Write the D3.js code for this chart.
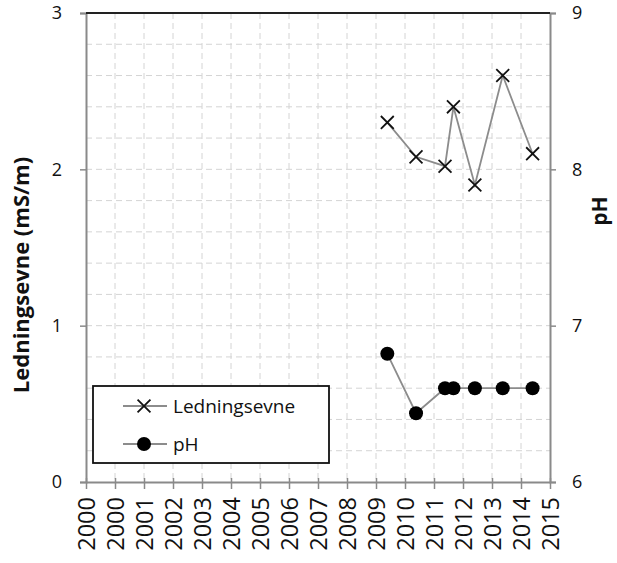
<!DOCTYPE html>
<html>
<head>
<meta charset="utf-8">
<script src="https://cdn.jsdelivr.net/npm/d3@7"></script>
<style>
	body { margin: 0; background: #fff; }
	svg text { font-family: 'Open Sans', 'Liberation Sans', sans-serif; fill: #111; }
</style>
</head>
<body>
<div id="chart"></div>
<script>
// sample dates as decimal years
var sampleYears = [2009.39, 2010.38, 2011.38, 2011.67, 2012.41, 2013.37, 2014.40];
var conductivity = [2.3, 2.08, 2.02, 2.4, 1.9, 2.6, 2.1];
var phValues = [6.82, 6.44, 6.6, 6.6, 6.6, 6.6, 6.6];
var xTickValues = [1999, 2000, 2001, 2002, 2003, 2004, 2005, 2006, 2007, 2008, 2009, 2010, 2011, 2012, 2013, 2014, 2015];
var xTickLabels = ['2000', '2000', '2001', '2002', '2003', '2004', '2005', '2006', '2007', '2008', '2009', '2010', '2011', '2012', '2013', '2014', '2015'];
var leftTicks = [0, 1, 2, 3];
var rightTicks = [6, 7, 8, 9];
var seriesNames = ['Ledningsevne', 'pH'];

var W = 617, H = 563;
var margin = { top: 13, right: 67, bottom: 81, left: 86 },
	width = W - margin.left - margin.right,
	height = H - margin.top - margin.bottom;

var svg = d3.select('#chart').append('svg')
	.attr('width', W)
	.attr('height', H);
var g = svg.append('g')
	.attr('transform', 'translate(' + margin.left + ',' + margin.top + ')');

var x = d3.scaleLinear().domain([1999, 2015]).range([0, width]);
var y = d3.scaleLinear().domain([0, 3]).range([height, 0]);
var yRight = d3.scaleLinear().domain([6, 9]).range([height, 0]);

// grid (dashed)
var grid = g.append('g').attr('class', 'grid');
grid.selectAll('.vgrid')
	.data(xTickValues.slice(1, -1))
	.enter().append('line')
	.attr('x1', function (d) { return x(d); })
	.attr('x2', function (d) { return x(d); })
	.attr('y1', 0)
	.attr('y2', height)
	.attr('stroke', '#d4d4d4')
	.attr('stroke-dasharray', '6,4');
grid.selectAll('.hgrid')
	.data(d3.range(1, 15).map(function (i) { return i * 0.2; }))
	.enter().append('line')
	.attr('x1', 0)
	.attr('x2', width)
	.attr('y1', function (d) { return y(d); })
	.attr('y2', function (d) { return y(d); })
	.attr('stroke', '#d4d4d4')
	.attr('stroke-dasharray', '6,4');

// axes
var xAxis = d3.axisBottom(x)
	.tickValues(xTickValues)
	.tickSize(0)
	.tickFormat(function (d, i) { return xTickLabels[i]; });
var gx = g.append('g')
	.attr('transform', 'translate(0,' + height + ')')
	.call(xAxis);
gx.select('.domain').attr('stroke', '#8a8a8a').attr('stroke-width', 2);
gx.selectAll('.tick line').remove();
gx.selectAll('.tick').append('line')
	.attr('y1', -4).attr('y2', 7)
	.attr('stroke', '#8a8a8a').attr('stroke-width', 1.5);
gx.selectAll('.tick text')
	.attr('font-size', 23.5)
	.attr('text-anchor', 'end')
	.attr('dy', '0.35em')
	.attr('transform', 'translate(0,15) rotate(-90)')
	.attr('x', 0)
	.attr('y', 0);

var yAxis = d3.axisLeft(y).tickValues(leftTicks).tickSize(6).tickPadding(18).tickFormat(d3.format('d'));
var gy = g.append('g').call(yAxis);
gy.select('.domain').attr('stroke', '#8a8a8a').attr('stroke-width', 2);
gy.selectAll('.tick line').attr('stroke', '#8a8a8a').attr('stroke-width', 1.5);
gy.selectAll('.tick text').attr('font-size', 18);

var yAxisRight = d3.axisRight(yRight).tickValues(rightTicks).tickSize(6).tickPadding(16).tickFormat(d3.format('d'));
var gyr = g.append('g').attr('transform', 'translate(' + width + ',0)').call(yAxisRight);
gyr.select('.domain').attr('stroke', '#8a8a8a').attr('stroke-width', 2);
gyr.selectAll('.tick line').attr('stroke', '#8a8a8a').attr('stroke-width', 1.5);
gyr.selectAll('.tick text').attr('font-size', 18);

// top border
g.append('line')
	.attr('x1', 0).attr('x2', width)
	.attr('y1', 0).attr('y2', 0)
	.attr('stroke', '#222').attr('stroke-width', 2);

// axis titles
svg.append('text')
	.attr('transform', 'translate(29,' + 275 + ') rotate(-90)')
	.attr('text-anchor', 'middle')
	.attr('font-size', 22)
	.attr('font-weight', 'bold')
	.text('Ledningsevne (mS/m)');
svg.append('text')
	.attr('transform', 'translate(607,211) rotate(-90)')
	.attr('text-anchor', 'middle')
	.attr('font-size', 21)
	.attr('font-weight', 'bold')
	.text('pH');

// series
var lineCond = d3.line()
	.x(function (d, i) { return x(sampleYears[i]); })
	.y(function (d) { return y(d); });
var linePh = d3.line()
	.x(function (d, i) { return x(sampleYears[i]); })
	.y(function (d) { return yRight(d); });

g.append('path')
	.datum(conductivity)
	.attr('d', lineCond)
	.attr('fill', 'none')
	.attr('stroke', '#8c8c8c')
	.attr('stroke-width', 1.8);
g.append('path')
	.datum(phValues)
	.attr('d', linePh)
	.attr('fill', 'none')
	.attr('stroke', '#8c8c8c')
	.attr('stroke-width', 1.8);

var cross = d3.symbol().type(d3.symbolX).size(110);
g.selectAll('.cond')
	.data(conductivity)
	.enter().append('path')
	.attr('class', 'cond')
	.attr('d', cross)
	.attr('transform', function (d, i) { return 'translate(' + x(sampleYears[i]) + ',' + y(d) + ')'; })
	.attr('fill', 'none')
	.attr('stroke', '#111')
	.attr('stroke-width', 1.8);

g.selectAll('.ph')
	.data(phValues)
	.enter().append('circle')
	.attr('class', 'ph')
	.attr('cx', function (d, i) { return x(sampleYears[i]); })
	.attr('cy', function (d) { return yRight(d); })
	.attr('r', 7)
	.attr('fill', '#000');

// legend
var legend = svg.append('g').attr('transform', 'translate(93,386)');
legend.append('rect')
	.attr('width', 236).attr('height', 77)
	.attr('fill', '#fff')
	.attr('stroke', '#111')
	.attr('stroke-width', 1.8);
var items = legend.selectAll('.item')
	.data(seriesNames)
	.enter().append('g')
	.attr('transform', function (d, i) { return 'translate(0,' + (20 + i * 38) + ')'; });
items.append('line')
	.attr('x1', 30).attr('x2', 74)
	.attr('stroke', '#8c8c8c').attr('stroke-width', 1.8);
items.each(function (d, i) {
	var it = d3.select(this);
	if (i === 0) {
		it.append('path').attr('d', cross)
			.attr('transform', 'translate(51,0)')
			.attr('fill', 'none').attr('stroke', '#111').attr('stroke-width', 1.8);
	} else {
		it.append('circle').attr('cx', 51).attr('r', 7).attr('fill', '#000');
	}
});
items.append('text')
	.attr('x', 80)
	.attr('dy', '0.35em')
	.attr('font-size', 19)
	.text(function (d) { return d; });
</script>
</body>
</html>
